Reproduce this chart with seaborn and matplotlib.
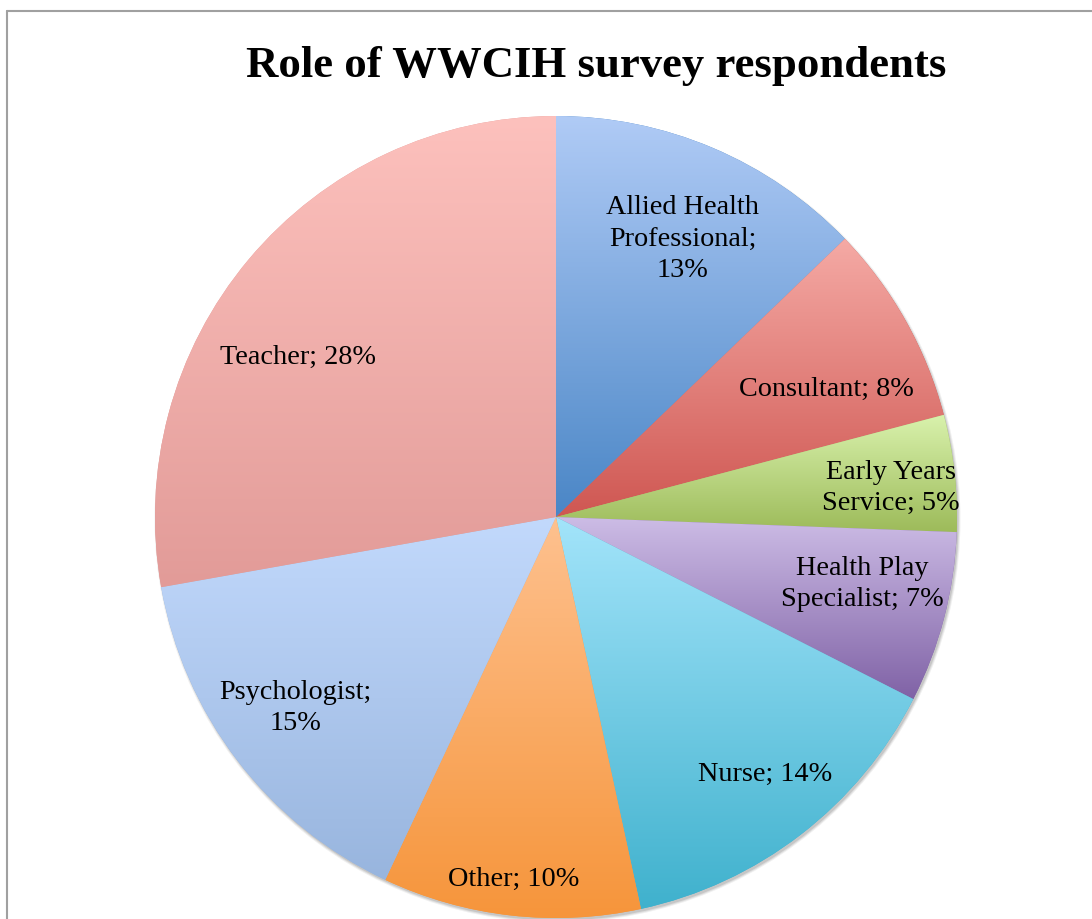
import numpy as np
import matplotlib
matplotlib.use("Agg")
import matplotlib.pyplot as plt
import seaborn as sns
from matplotlib.colors import LinearSegmentedColormap, to_rgb
from matplotlib.lines import Line2D
from matplotlib.patches import Circle

# ---- data ----
names = ["Allied Health\nProfessional;\n", "Consultant; ", "Early Years\nService; ",
         "Health Play\nSpecialist; ", "Nurse; ", "Other; ",
         "Psychologist;\n", "Teacher; "]
values = [12.8, 8.1, 4.7, 6.9, 14.1, 10.4, 15.2, 27.8]
title = "Role of WWCIH survey respondents"

# ---- styles ----
top_colors = ["#b0cbf6", "#f5aaa5", "#d9f2ad", "#cdbde6", "#a3e4fa", "#fec18f", "#c2d9fc", "#fdc1bd"]
bot_colors = ["#4a86c6", "#cf5752", "#9dbb5a", "#8062a6", "#3fb1cd", "#f6953b", "#98b5de", "#e29b98"]
label_rfrac = [0.77, 0.75, 0.84, 0.78, 0.82, 0.90, 0.80, 0.76]
label_dang = [-1.2, -3.6, -0.8, 2.9, 1.9, -0.2, -1.7, 7.7]
label_dy = -3.5

sns.set_theme(style="white")
plt.rcParams["font.family"] = ["Liberation Serif", "DejaVu Serif"]

W, H = 1092, 919
fig = plt.figure(figsize=(W / 100, H / 100), dpi=100)
ax = fig.add_axes([0, 0, 1, 1])

cx, cy, R = 556, H - 517, 401

# soft shadow toward lower right
for k, a in enumerate([0.06, 0.08, 0.10]):
    ax.add_patch(Circle((cx + 1.5, cy - 2.5), R + 2 - k, facecolor="#000000",
                        alpha=a, edgecolor="none", zorder=0))

wedges, _ = ax.pie(values, startangle=90, counterclock=False, radius=R, center=(cx, cy),
                   colors=bot_colors, wedgeprops=dict(edgecolor="none", linewidth=0),
                   frame=True)
ax.set_xlim(0, W)
ax.set_ylim(0, H)
ax.set_aspect("equal")
ax.axis("off")

grad = np.linspace(0, 1, 256).reshape(-1, 1)
for w, tc, bc in zip(wedges, top_colors, bot_colors):
    ext = w.get_path().get_extents()
    cmap = LinearSegmentedColormap.from_list("g", [to_rgb(tc), to_rgb(bc)])
    im = ax.imshow(grad, cmap=cmap, aspect="auto", origin="upper",
                   extent=[ext.x0, ext.x1, ext.y0, ext.y1], zorder=2, interpolation="bicubic")
    im.set_clip_path(w)
    w.set_zorder(1)

ax.set_xlim(0, W)
ax.set_ylim(0, H)

for w, name, v, rf, da in zip(wedges, names, values, label_rfrac, label_dang):
    mid = np.deg2rad((w.theta1 + w.theta2) / 2 + da)
    x = cx + rf * R * np.cos(mid)
    y = cy + rf * R * np.sin(mid) + label_dy
    ax.text(x, y, f"{name}{round(v)}%", ha="center", va="center", multialignment="center",
            fontsize=20.3, color="black", linespacing=1.32, zorder=5)

ax.text(596, H - 66, title, ha="center", va="center", fontsize=32.2,
        fontweight="bold", color="black", zorder=5)

# outer frame (top and left visible)
fig.add_artist(Line2D([6.5 / W, 6.5 / W], [0, 1 - 11 / H], transform=fig.transFigure,
                      color="#a0a0a0", lw=1.5))
fig.add_artist(Line2D([6.5 / W, 1], [1 - 11 / H, 1 - 11 / H], transform=fig.transFigure,
                      color="#a0a0a0", lw=1.5))

fig.savefig("out.png", dpi=100, facecolor="white")
